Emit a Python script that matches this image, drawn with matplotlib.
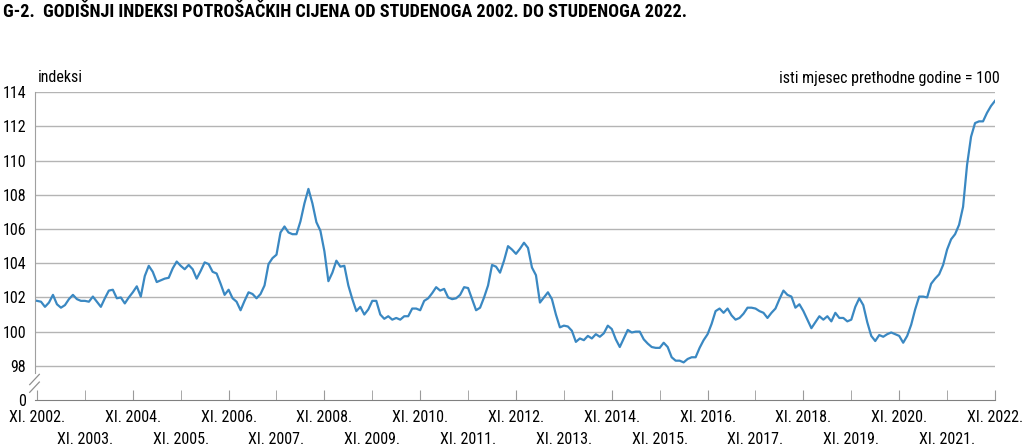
import matplotlib
matplotlib.use('Agg')
import matplotlib.pyplot as plt
import matplotlib.transforms as mtransforms

plt.rcParams['font.family'] = ['Roboto Condensed', 'Liberation Sans Narrow', 'Roboto', 'DejaVu Sans']

# monthly annual CPI index, XI. 2002 - XI. 2022 (same month previous year = 100)
cpi = [
    101.8, 101.75, 101.45, 101.7, 102.15, 101.6, 101.4, 101.55, 101.9, 102.15, 101.9, 101.8,
    101.8, 101.75, 102.05, 101.75, 101.45, 101.95, 102.4, 102.45, 101.95, 102.0, 101.65, 102.0,
    102.3, 102.65, 102.05, 103.25, 103.85, 103.5, 102.9, 103.0, 103.1, 103.15, 103.7, 104.1,
    103.85, 103.65, 103.9, 103.65, 103.1, 103.55, 104.05, 103.95, 103.5, 103.4, 102.8, 102.15,
    102.45, 101.95, 101.75, 101.25, 101.8, 102.3, 102.2, 101.95, 102.2, 102.7, 103.95, 104.3,
    104.5, 105.8, 106.15, 105.8, 105.7, 105.7, 106.45, 107.5, 108.35, 107.5, 106.4, 105.9,
    104.7, 102.95, 103.45, 104.15, 103.8, 103.85, 102.7, 101.9, 101.2, 101.45, 101.0, 101.3,
    101.8, 101.8, 101.0, 100.75, 100.9, 100.7, 100.8, 100.7, 100.9, 100.9, 101.35, 101.35,
    101.25, 101.8, 101.95, 102.25, 102.6, 102.4, 102.5, 102.0, 101.9, 101.95, 102.15, 102.6,
    102.55, 101.9, 101.25, 101.4, 102.0, 102.7, 103.9, 103.8, 103.45, 104.15, 105.0, 104.8,
    104.55, 104.85, 105.2, 104.9, 103.75, 103.3, 101.7, 102.0, 102.3, 101.9, 101.0, 100.25,
    100.35, 100.3, 100.05, 99.4, 99.6, 99.5, 99.75, 99.6, 99.85, 99.7, 99.9, 100.35,
    100.15, 99.55, 99.1, 99.6, 100.1, 99.95, 100.0, 100.0, 99.55, 99.3, 99.1, 99.05,
    99.05, 99.35, 99.1, 98.5, 98.3, 98.3, 98.2, 98.4, 98.5, 98.5, 99.05, 99.5,
    99.85, 100.45, 101.2, 101.35, 101.1, 101.35, 100.95, 100.7, 100.8, 101.05, 101.4, 101.4,
    101.35, 101.2, 101.1, 100.8, 101.1, 101.35, 101.9, 102.4, 102.15, 102.05, 101.4, 101.6,
    101.2, 100.7, 100.2, 100.55, 100.9, 100.7, 100.9, 100.6, 101.1, 100.8, 100.8, 100.6,
    100.7, 101.45, 101.95, 101.55, 100.55, 99.75, 99.45, 99.8, 99.7, 99.85, 99.95, 99.85,
    99.75, 99.35, 99.75, 100.4, 101.3, 102.05, 102.05, 102.0, 102.8, 103.1, 103.35, 103.9,
    104.8, 105.4, 105.7, 106.25, 107.3, 109.75, 111.4, 112.2, 112.3, 112.3, 112.8, 113.2, 113.5,
]
years = list(range(2002, 2023))
yticks = [98, 100, 102, 104, 106, 108, 110, 112, 114]

months = list(range(len(cpi)))

fig = plt.figure(figsize=(10.24, 4.48), dpi=100)
ax = fig.add_axes([35 / 1024, 1 - 400 / 448, 960 / 1024, (400 - 92.3) / 448])

ax.plot(months, cpi, color='#3a88c2', lw=1.6, solid_joinstyle='round', zorder=3)

ax.set_xlim(-0.5, 240)
ax.set_ylim(96, 114)

# y axis: 0 at the bottom, then a break up to 98
ax.set_yticks([96] + yticks)
ax.set_yticklabels(['0'] + [str(v) for v in yticks])
for v in yticks:
    ax.axhline(v, color='#b4b4b4', lw=1, zorder=1)
ax.tick_params(axis='y', length=0, pad=6.5, labelsize=11.5)

# x axis: one tick per November; even years on the upper row, odd years below
even = [y for y in years if y % 2 == 0]
odd = [y for y in years if y % 2 == 1]
ax.set_xticks([12 * (y - 2002) for y in even])
ax.set_xticklabels([f'XI. {y}.' for y in even])
ax.set_xticks([12 * (y - 2002) for y in odd], minor=True)
ax.set_xticklabels([f'XI. {y}.' for y in odd], minor=True)
ax.tick_params(axis='x', which='both', direction='in', length=7, color='#9a9a9a', labelsize=11.5)
ax.tick_params(axis='x', which='major', pad=7)
ax.tick_params(axis='x', which='minor', pad=23)

for s in ['top', 'right']:
    ax.spines[s].set_visible(False)
ax.spines['left'].set_color('#a0a0a0')
ax.spines['left'].set_bounds(97.6, 114)
ax.spines['bottom'].set_color('#808080')

# axis break marks
tr = mtransforms.blended_transform_factory(ax.transAxes, ax.transData)
for dy in (0.0, 0.45):
    ax.plot([-0.0055, 0.0045], [96.45 + dy, 97.05 + dy], transform=tr,
            color='#909090', lw=0.9, clip_on=False)

fig.text(38 / 1024, 1 - 78 / 448, 'indeksi', fontsize=11.5, va='center', ha='left')
fig.text(1000 / 1024, 1 - 78 / 448, 'isti mjesec prethodne godine = 100',
         fontsize=11.5, va='center', ha='right')
fig.text(3 / 1024, 1 - 12 / 448,
         'G-2.  GODIŠNJI INDEKSI POTROŠAČKIH CIJENA OD STUDENOGA 2002. DO STUDENOGA 2022.',
         fontsize=13.1, fontweight='bold', va='center', ha='left')

fig.savefig('out.png', dpi=100)
